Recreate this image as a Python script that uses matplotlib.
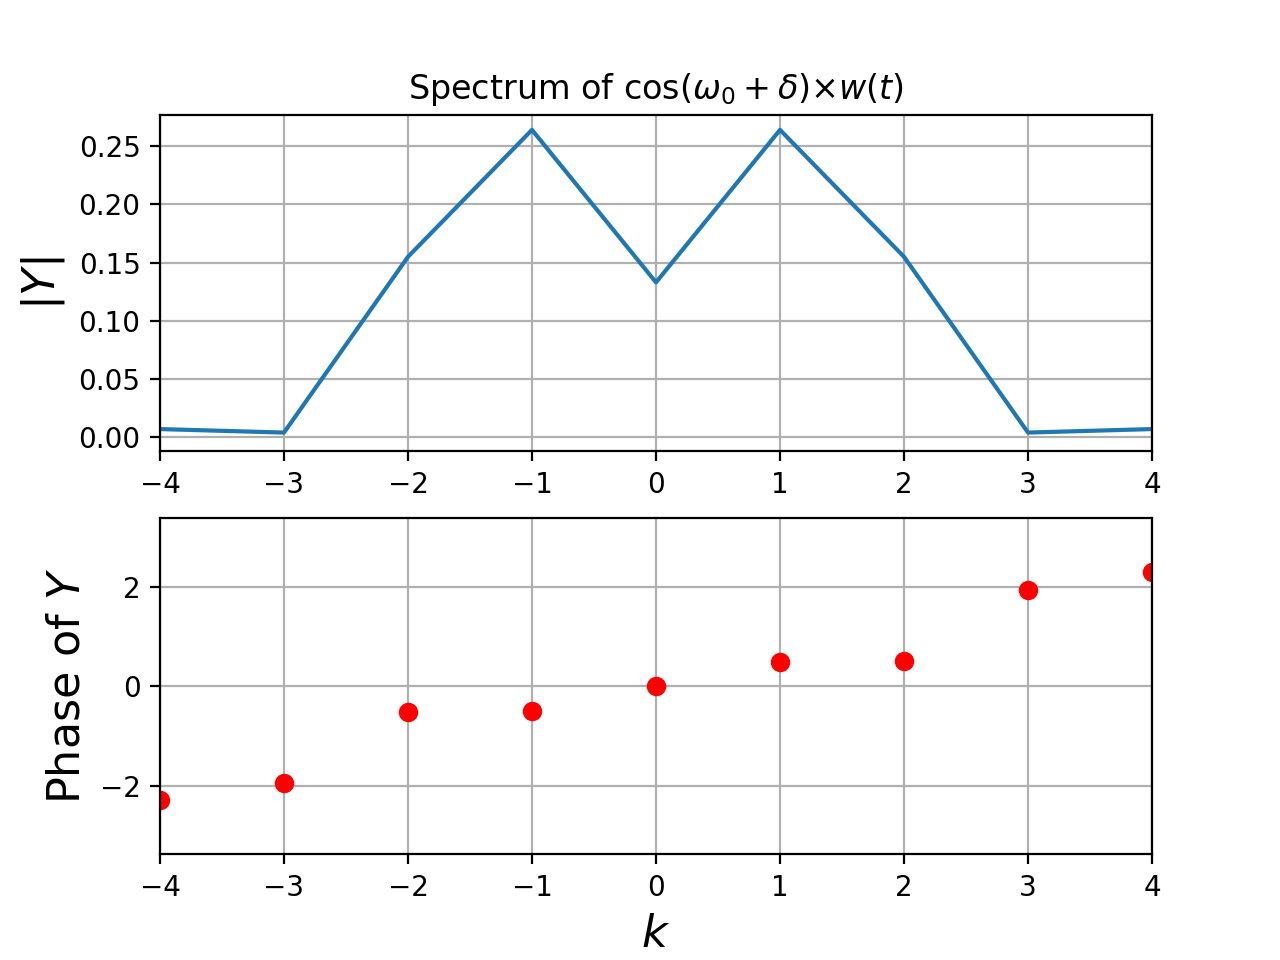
import numpy as np
import matplotlib
matplotlib.use("Agg")
import matplotlib.pyplot as plt

# --------------------------
# Data
# --------------------------
k = [-4, -3, -2, -1, 0, 1, 2, 3, 4]
mag_Y = [0.007, 0.004, 0.155, 0.264, 0.133, 0.264, 0.155, 0.004, 0.007]
phase_Y = [-2.30, -1.95, -0.52, -0.50, 0.0, 0.49, 0.51, 1.95, 2.30]

fig = plt.figure(figsize=(6.4, 4.8), dpi=200)

plt.subplot(2, 1, 1)
plt.plot(k, mag_Y)
plt.xlim([-4, 4])
plt.ylim([-0.012, 0.2766])
plt.ylabel(r"$|Y|$", size=16)
plt.title(r"Spectrum of $\cos(\omega_0+\delta)$×$w(t)$")
plt.grid(True)

plt.subplot(2, 1, 2)
plt.plot(k, phase_Y, 'ro')
plt.xlim([-4, 4])
plt.ylim([-3.39, 3.39])
plt.ylabel(r"Phase of $Y$", size=16)
plt.xlabel(r"$k$", size=16)
plt.grid(True)

plt.savefig("out.png")
